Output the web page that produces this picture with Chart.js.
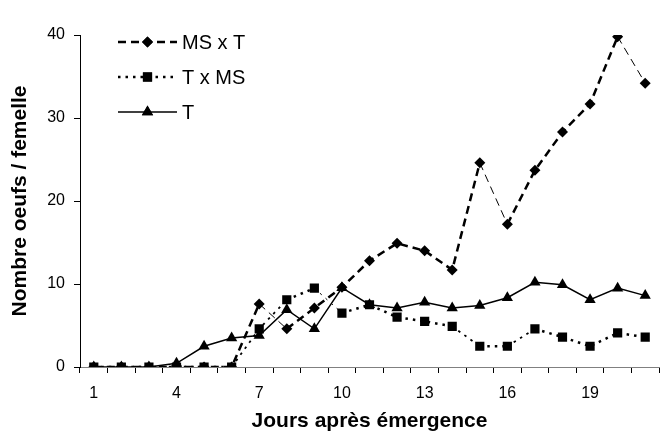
<!DOCTYPE html>
<html>
<head>
<meta charset="utf-8">
<script src="https://cdn.jsdelivr.net/npm/chart.js@4/dist/chart.umd.min.js"></script>
<style>
  html, body { margin: 0; padding: 0; background: #fff; }
  #wrap { width: 666px; height: 435px; }
</style>
</head>
<body>
<div id="wrap"><canvas id="eggChart"></canvas></div>
<script>
// jours après émergence
const days = ['1', '2', '3', '4', '5', '6', '7', '8', '9', '10', '11', '12', '13', '14', '15', '16', '17', '18', '19', '20', '21'];

const msxt = [0, 0, 0, 0, 0, 0, 7.6, 4.6, 7.1, 9.6, 12.8, 14.9, 14.0, 11.7, 24.6, 17.2, 23.7, 28.3, 31.7, 39.8, 34.2];
const txms = [0, 0, 0, 0, 0, 0, 4.6, 8.1, 9.5, 6.5, 7.5, 6.0, 5.5, 4.9, 2.5, 2.5, 4.6, 3.6, 2.5, 4.1, 3.6];
const tOnly = [0, 0, 0, 0.45, 2.5, 3.5, 3.8, 6.9, 4.6, 9.55, 7.5, 7.1, 7.8, 7.1, 7.4, 8.35, 10.2, 9.9, 8.1, 9.5, 8.6];

const yTicks = [0, 10, 20, 30, 40];

const FONT = '"Liberation Sans", Arial, sans-serif';

// dans l'original les segments en forte pente sont tracés plus fins
function thinSteep(thick, mid, thin) {
    return ctx => {
        const d = ctx.p1.parsed.y - ctx.p0.parsed.y;
        if (d < -2.5) return thin;
        if (Math.abs(d) > 2) return mid;
        return thick;
    };
}

// légende dessinée dans la zone du graphique (en haut à gauche)
const insideLegend = {
    id: 'insideLegend',
    afterDatasetsDraw(chart) {
        const ctx = chart.ctx;
        const x0 = 118, x1 = 177, rows = [42, 77, 112];
        chart.data.datasets.forEach((ds, i) => {
            const y = rows[i];
            ctx.save();
            ctx.strokeStyle = '#000';
            ctx.lineWidth = ds.borderWidth;
            ctx.setLineDash(ds.borderDash || []);
            ctx.beginPath();
            ctx.moveTo(x0, y);
            ctx.lineTo(x1, y);
            ctx.stroke();
            ctx.setLineDash([]);
            ctx.fillStyle = '#000';
            Chart.helpers.drawPoint(ctx, {
                pointStyle: ds.pointStyle,
                radius: ds.pointRadius,
                borderWidth: 0,
                rotation: 0
            }, (x0 + x1) / 2, y);
            ctx.fill();
            ctx.font = '20px ' + FONT;
            ctx.textBaseline = 'middle';
            ctx.textAlign = 'left';
            ctx.fillText(ds.label, 182, y + 1);
            ctx.restore();
        });
    }
};

new Chart(document.getElementById('eggChart'), {
    type: 'line',
    data: {
        labels: days,
        datasets: [
            {
                label: 'MS x T',
                data: msxt,
                borderColor: '#000',
                backgroundColor: '#000',
                borderWidth: 2.5,
                borderDash: [8, 5],
                segment: { borderWidth: thinSteep(2.5, 2.5, 1) },
                pointStyle: 'rectRot',
                pointRadius: 5.5,
                pointBorderWidth: 0,
                tension: 0
            },
            {
                label: 'T x MS',
                data: txms,
                borderColor: '#000',
                backgroundColor: '#000',
                borderWidth: 2.5,
                borderDash: [2.5, 5],
                segment: { borderWidth: thinSteep(2.5, 1.8, 1) },
                pointStyle: 'rect',
                pointRadius: 6.5,
                pointBorderWidth: 0,
                tension: 0
            },
            {
                label: 'T',
                data: tOnly,
                borderColor: '#000',
                backgroundColor: '#000',
                borderWidth: 1.5,
                pointStyle: 'triangle',
                pointRadius: 6.5,
                pointBorderWidth: 0,
                tension: 0
            }
        ]
    },
    options: {
        responsive: true,
        maintainAspectRatio: false,
        animation: false,
        layout: {
            padding: { left: 0, top: 35, right: 7, bottom: 0 }
        },
        plugins: {
            legend: { display: false },
            tooltip: { enabled: false }
        },
        scales: {
            x: {
                type: 'category',
                offset: true,
                afterFit: scale => { scale.height = 68; },
                grid: {
                    offset: true,
                    drawOnChartArea: false,
                    drawTicks: true,
                    tickLength: 6,
                    tickColor: '#000'
                },
                border: { color: '#808080', width: 1 },
                ticks: {
                    autoSkip: false,
                    maxRotation: 0,
                    padding: 11,
                    color: '#000',
                    font: { family: FONT, size: 16 },
                    callback: (val, i) => (i % 3 === 0 ? days[i] : '')
                },
                title: {
                    display: true,
                    text: 'Jours après émergence',
                    color: '#000',
                    font: { family: FONT, size: 21, weight: 'bold' },
                    padding: { top: 0, bottom: 1 }
                }
            },
            y: {
                min: 0,
                max: 40,
                afterFit: scale => { scale.width = 80; },
                afterBuildTicks: scale => { scale.ticks = yTicks.map(v => ({ value: v })); },
                grid: {
                    drawOnChartArea: false,
                    drawTicks: true,
                    tickLength: 6,
                    tickColor: '#000'
                },
                border: { color: '#000', width: 1 },
                ticks: {
                    padding: 9,
                    color: '#000',
                    font: { family: FONT, size: 16 }
                },
                title: {
                    display: true,
                    text: 'Nombre oeufs / femelle',
                    color: '#000',
                    font: { family: FONT, size: 21, weight: 'bold' },
                    padding: { top: 8, bottom: 0 }
                }
            }
        }
    },
    plugins: [insideLegend]
});
</script>
</body>
</html>
